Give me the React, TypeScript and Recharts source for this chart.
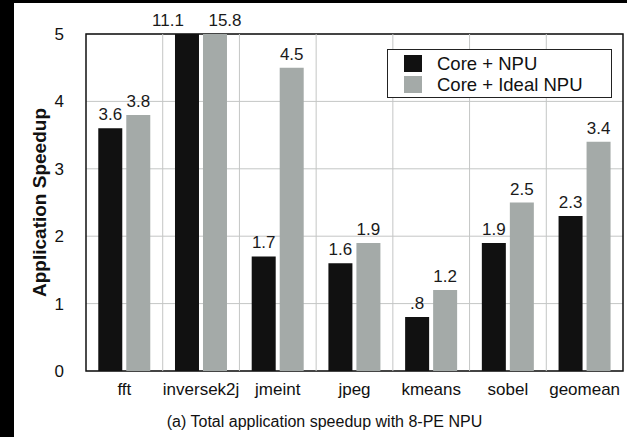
import React from 'react';
import {
  BarChart,
  Bar,
  XAxis,
  YAxis,
  CartesianGrid,
  ReferenceArea,
  ReferenceLine,
  LabelList,
} from 'recharts';

const benchmarks = ['fft', 'inversek2j', 'jmeint', 'jpeg', 'kmeans', 'sobel', 'geomean'];
const coreNpu = [3.6, 11.1, 1.7, 1.6, 0.8, 1.9, 2.3];
const coreIdealNpu = [3.8, 15.8, 4.5, 1.9, 1.2, 2.5, 3.4];
const yTicks = [0, 1, 2, 3, 4, 5];

const Y_MAX = 5;
const BLACK = '#111111';
const GRAY = '#a4aaa8';
const GRID = '#c4c6c5';
const FONT = '"Liberation Sans", Arial, Helvetica, sans-serif';

const chartData = benchmarks.map((name, i) => ({
  name,
  npu: coreNpu[i],
  ideal: coreIdealNpu[i],
}));

const WIDTH = 613;
const HEIGHT = 434;
const Y_AXIS_W = 72;
const X_AXIS_H = 30;
const MARGIN = { top: 31, right: 4, bottom: 36, left: 0 };

const fmt = (v: number) => (v < 1 ? String(v).replace(/^0/, '') : v.toFixed(1));

// value label above each bar; bars past the top of the axis get their label
// pinned above the frame and nudged apart so the pair stays readable
const makeBarValue = (overflowShift: number) => (props: any) => {
  const { x, y, width, value } = props;
  const over = value > Y_MAX;
  const top = Math.max(y, MARGIN.top);
  return (
    <text
      x={x + width / 2 + (over ? overflowShift : 0)}
      y={top - 8}
      textAnchor="middle"
      fontSize={17}
      fontFamily={FONT}
      fill="#1a1a1a"
    >
      {fmt(value)}
    </text>
  );
};

const NpuValue = makeBarValue(-19);
const IdealValue = makeBarValue(10);

const LegendBox = () => (
  <div
    style={{
      position: 'absolute',
      left: 373,
      top: 46,
      border: '1.5px solid #222',
      width: 225,
      height: 49,
      boxSizing: 'border-box',
      padding: '3px 0 0 16px',
      fontFamily: FONT,
      fontSize: 18.5,
      color: '#111',
      background: '#fff',
    }}
  >
    {[
      { label: 'Core + NPU', color: BLACK },
      { label: 'Core + Ideal NPU', color: GRAY },
    ].map((item) => (
      <div key={item.label} style={{ display: 'flex', alignItems: 'center', height: 21 }}>
        <span style={{ width: 18, height: 17, background: item.color, marginRight: 15 }} />
        <span>{item.label}</span>
      </div>
    ))}
  </div>
);

const YTitle = (props: any) => {
  const { viewBox } = props;
  const cx = viewBox.x + 25;
  const cy = viewBox.y + viewBox.height / 2;
  return (
    <text
      x={cx}
      y={cy}
      transform={`rotate(-90, ${cx}, ${cy})`}
      textAnchor="middle"
      dominantBaseline="central"
      fontSize={19}
      fontWeight="bold"
      fontFamily={FONT}
      fill="#111"
    >
      Application Speedup
    </text>
  );
};

export default function App() {
  return (
    <div
      style={{
        position: 'fixed',
        left: 0,
        top: 0,
        width: 627,
        height: 437,
        background: '#000',
      }}
    >
      <div
        style={{
          position: 'absolute',
          left: 14,
          top: 3,
          width: WIDTH,
          height: HEIGHT,
          background: '#fff',
        }}
      >
        <BarChart
          width={WIDTH}
          height={HEIGHT}
          data={chartData}
          margin={MARGIN}
          barCategoryGap="16%"
          barGap={4}
        >
          <CartesianGrid stroke={GRID} strokeWidth={1} vertical={false} />
          <XAxis
            dataKey="name"
            height={X_AXIS_H}
            axisLine={false}
            tickLine={false}
            tickSize={0}
            tickMargin={12}
            interval={0}
            tick={{ fontSize: 17, fontFamily: FONT, fill: '#111' }}
          />
          <YAxis
            width={Y_AXIS_W}
            domain={[0, Y_MAX]}
            ticks={yTicks}
            allowDataOverflow
            axisLine={false}
            tickLine={false}
            tickSize={0}
            tickMargin={22}
            tick={{ fontSize: 17, fontFamily: FONT, fill: '#111' }}
            label={<YTitle />}
          />
          {/* separators at the left edge of every group after the first */}
          {benchmarks.slice(1).map((b) => (
            <ReferenceLine key={b} x={b} position="start" stroke={GRID} strokeWidth={1} />
          ))}
          <Bar dataKey="npu" name="Core + NPU" fill={BLACK} isAnimationActive={false}>
            <LabelList dataKey="npu" content={<NpuValue />} />
          </Bar>
          <Bar dataKey="ideal" name="Core + Ideal NPU" fill={GRAY} isAnimationActive={false}>
            <LabelList dataKey="ideal" content={<IdealValue />} />
          </Bar>
          <ReferenceArea y1={0} y2={Y_MAX} fill="none" stroke="#111" strokeWidth={1.5} ifOverflow="visible" />
        </BarChart>
        <LegendBox />
        <div
          style={{
            position: 'absolute',
            top: 410,
            left: 0,
            width: WIDTH,
            paddingLeft: 8,
            boxSizing: 'border-box',
            textAlign: 'center',
            fontFamily: FONT,
            fontSize: 16,
            color: '#111',
          }}
        >
          (a) Total application speedup with 8-PE NPU
        </div>
      </div>
    </div>
  );
}
